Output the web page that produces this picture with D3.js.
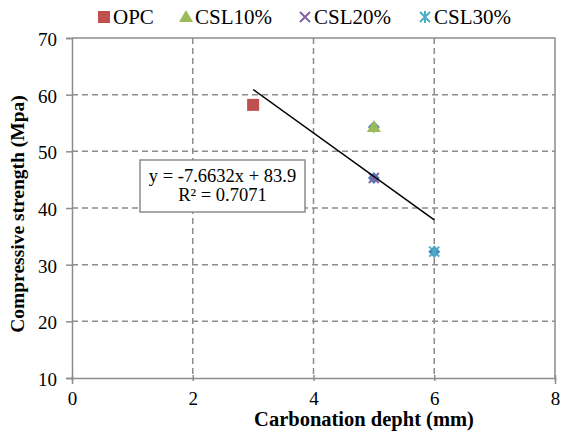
<!DOCTYPE html>
<html><head><meta charset="utf-8">
<script src="https://cdn.jsdelivr.net/npm/d3@7"></script>
<style>body{margin:0;background:#fff;}</style>
</head><body>
<svg id="c" width="561" height="434"></svg>
<script>
const seriesNames = ["OPC","CSL10%","CSL20%","CSL30%"];
const seriesColors = ["#C0504D","#9BBB59","#8064A2","#4BACC6"];
const seriesX = [3,5,5,6];
const seriesY = [58.2,54.3,45.3,32.3];
const xTicks = [0,2,4,6,8];
const yTicks = [10,20,30,40,50,60,70];
const trendSlope = -7.6632, trendIntercept = 83.9, trendR2 = 0.7071;
const trendRange = [3,6];

const FONT = "Liberation Serif";
const svg = d3.select("#c");
const L=72,R=555,T=38,B=378;
const x = d3.scaleLinear().domain([0,8]).range([L,R]);
const y = d3.scaleLinear().domain([10,70]).range([B,T]);
const grid="#8c8c8c";

// gridlines
svg.append("g").selectAll("line").data(yTicks.filter(d=>d!==10 && d!==70)).join("line")
 .attr("x1",L).attr("x2",R).attr("y1",d=>y(d)).attr("y2",d=>y(d))
 .attr("stroke",grid).attr("stroke-width",1.5).attr("stroke-dasharray","6,4");
svg.append("g").selectAll("line").data(xTicks.filter(d=>d!==0 && d!==8)).join("line")
 .attr("y1",T).attr("y2",B).attr("x1",d=>x(d)).attr("x2",d=>x(d))
 .attr("stroke",grid).attr("stroke-width",1.5).attr("stroke-dasharray","6,4");
svg.append("path").attr("d",`M${L},${T}H${R}V${B}`).attr("fill","none").attr("stroke",grid).attr("stroke-width",1.5);

// axes
const xa = svg.append("g").attr("transform",`translate(0,${B})`)
 .call(d3.axisBottom(x).tickValues(xTicks).tickSize(6).tickPadding(8).tickFormat(d3.format("d")));
const ya = svg.append("g").attr("transform",`translate(${L},0)`)
 .call(d3.axisLeft(y).tickValues(yTicks).tickSize(6).tickPadding(9).tickFormat(d3.format("d")));
[xa,ya].forEach(a=>{
 a.attr("font-family",FONT).attr("font-size",19);
 a.select(".domain").attr("stroke",grid).attr("stroke-width",1.5);
 a.selectAll(".tick line").attr("stroke",grid).attr("stroke-width",1.5);
 a.selectAll(".tick text").attr("fill","#000");
});
xa.selectAll(".tick line").attr("y1",-3).attr("y2",3);
ya.selectAll(".tick text").attr("dy","0.4em");

// marker shapes
function drawMarker(g,i,cx,cy){
 const c=seriesColors[i];
 if(i===0){g.append("rect").attr("x",cx-6).attr("y",cy-6).attr("width",12).attr("height",12).attr("fill",c);}
 else if(i===1){g.append("path").attr("d",`M${cx},${cy-7}L${cx+7},${cy+5}L${cx-7},${cy+5}Z`).attr("fill",c);}
 else if(i===2){g.append("path").attr("d",`M${cx-5},${cy-5}L${cx+5},${cy+5}M${cx+5},${cy-5}L${cx-5},${cy+5}`).attr("stroke",c).attr("stroke-width",2);}
 else {g.append("path").attr("d",`M${cx-5},${cy-5}L${cx+5},${cy+5}M${cx+5},${cy-5}L${cx-5},${cy+5}M${cx},${cy-6}L${cx},${cy+6}`).attr("stroke",c).attr("stroke-width",2);}
}

// combined series (diamonds) behind
const pts = svg.append("g");
seriesX.forEach((d,i)=>{
 const cx=x(d), cy=y(seriesY[i]);
 pts.append("path").attr("d",`M${cx},${cy-6}L${cx+6},${cy}L${cx},${cy+6}L${cx-6},${cy}Z`).attr("fill","#4F81BD");
});
seriesX.forEach((d,i)=>drawMarker(pts,i,x(d),y(seriesY[i])));

// trendline
svg.append("line")
 .attr("x1",x(trendRange[0])).attr("y1",y(trendSlope*trendRange[0]+trendIntercept))
 .attr("x2",x(trendRange[1])).attr("y2",y(trendSlope*trendRange[1]+trendIntercept))
 .attr("stroke","#000").attr("stroke-width",1.5);

// equation box
const eq = svg.append("g").attr("font-family",FONT).attr("font-size",18.5);
eq.append("rect").attr("x",140).attr("y",160).attr("width",165).attr("height",52)
 .attr("fill","#fff").attr("stroke","#8c8c8c").attr("stroke-width",1.5);
eq.append("text").attr("x",222.5).attr("y",182).attr("text-anchor","middle")
 .text(`y = ${trendSlope}x + ${trendIntercept}`);
eq.append("text").attr("x",222.5).attr("y",201).attr("text-anchor","middle")
 .text(`R² = ${trendR2}`);

// legend
const legX=[98,180,299,419];
const lg = svg.append("g").attr("font-family",FONT).attr("font-size",21);
seriesNames.forEach((n,i)=>{
 drawMarker(lg,i,legX[i]+6,17);
 lg.append("text").attr("x",legX[i]+15).attr("y",24).text(n);
});

// axis titles
svg.append("text").attr("font-family",FONT).attr("x",364).attr("y",426).attr("text-anchor","middle").attr("font-size",20.5).attr("font-weight","bold")
 .text("Carbonation depht (mm)");
svg.append("text").attr("font-family",FONT).attr("transform",`translate(24,${(T+B)/2+6}) rotate(-90)`).attr("text-anchor","middle")
 .attr("font-size",19.5).attr("font-weight","bold").text("Compressive strength (Mpa)");
</script>
</body></html>
